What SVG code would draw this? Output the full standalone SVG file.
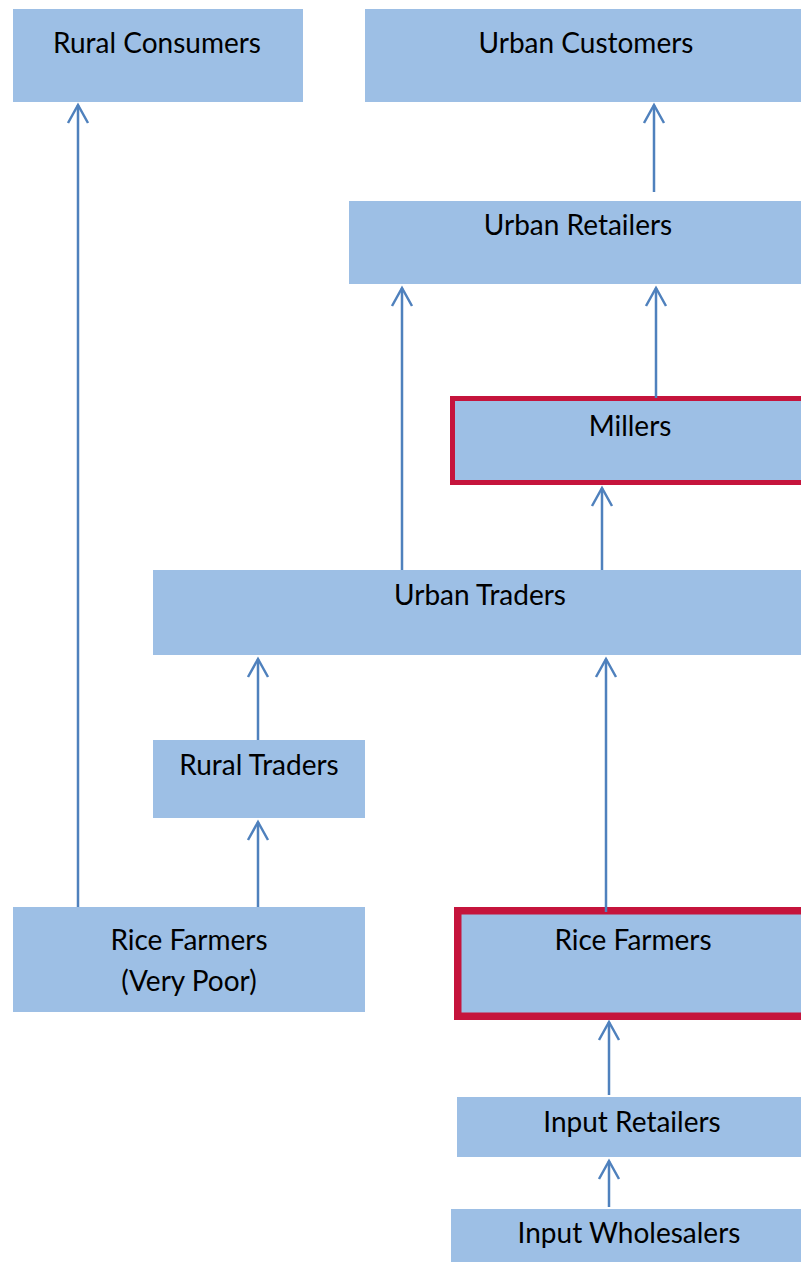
<svg xmlns="http://www.w3.org/2000/svg" width="801" height="1262" viewBox="0 0 801 1262">
<defs>
<style>
.box{fill:#9DBFE5;}
.red{fill:#9DBFE5;stroke:#C5143C;}
.t{font-family:Lato,"Open Sans",sans-serif;font-size:28px;fill:#000;text-anchor:middle;}
.c{stroke:#4F81BD;stroke-width:2.5;fill:none;}
</style>
<marker id="ah" markerUnits="userSpaceOnUse" markerWidth="24" markerHeight="24" refX="21" refY="12" orient="auto" viewBox="0 0 24 24">
<path d="M3 2 L21 12 L3 22" fill="none" stroke="#4F81BD" stroke-width="2.5"/>
</marker>
</defs>
<rect width="801" height="1262" fill="#fff"/>
<g id="rural-consumers"><rect class="box" x="13" y="9" width="290" height="93"/><text class="t" x="157" y="53">Rural Consumers</text></g>
<g id="urban-customers"><rect class="box" x="365" y="9" width="436" height="93"/><text class="t" x="586" y="53">Urban Customers</text></g>
<g id="urban-retailers"><rect class="box" x="349" y="201" width="452" height="83"/><text class="t" x="578" y="235">Urban Retailers</text></g>
<g id="millers"><rect class="red" x="452.5" y="398.5" width="352" height="84" stroke-width="5"/><text class="t" x="630" y="436">Millers</text></g>
<g id="urban-traders"><rect class="box" x="153" y="570" width="648" height="85"/><text class="t" x="480" y="605">Urban Traders</text></g>
<g id="rural-traders"><rect class="box" x="153" y="740" width="212" height="78"/><text class="t" x="259" y="775">Rural Traders</text></g>
<g id="rice-farmers-poor"><rect class="box" x="13" y="907" width="352" height="105"/><text class="t" x="189" y="950">Rice Farmers</text><text class="t" x="189" y="991">(Very Poor)</text></g>
<g id="rice-farmers"><rect class="red" x="457.75" y="910.75" width="350" height="105.5" stroke-width="7.5"/><text class="t" x="633" y="950">Rice Farmers</text></g>
<g id="input-retailers"><rect class="box" x="457" y="1097" width="344" height="60"/><text class="t" x="632" y="1132">Input Retailers</text></g>
<g id="input-wholesalers"><rect class="box" x="451" y="1209" width="350" height="53"/><text class="t" x="629" y="1243">Input Wholesalers</text></g>
<g id="connectors">
<line class="c" x1="78" y1="907" x2="78" y2="105" marker-end="url(#ah)"/>
<line class="c" x1="654" y1="192" x2="654" y2="105" marker-end="url(#ah)"/>
<line class="c" x1="402" y1="570" x2="402" y2="288" marker-end="url(#ah)"/>
<line class="c" x1="656" y1="398" x2="656" y2="288" marker-end="url(#ah)"/>
<line class="c" x1="602" y1="570" x2="602" y2="488" marker-end="url(#ah)"/>
<line class="c" x1="258" y1="740" x2="258" y2="659" marker-end="url(#ah)"/>
<line class="c" x1="606" y1="912" x2="606" y2="659" marker-end="url(#ah)"/>
<line class="c" x1="258" y1="907" x2="258" y2="822" marker-end="url(#ah)"/>
<line class="c" x1="609" y1="1095" x2="609" y2="1022" marker-end="url(#ah)"/>
<line class="c" x1="609" y1="1207" x2="609" y2="1161" marker-end="url(#ah)"/>
</g>
</svg>
